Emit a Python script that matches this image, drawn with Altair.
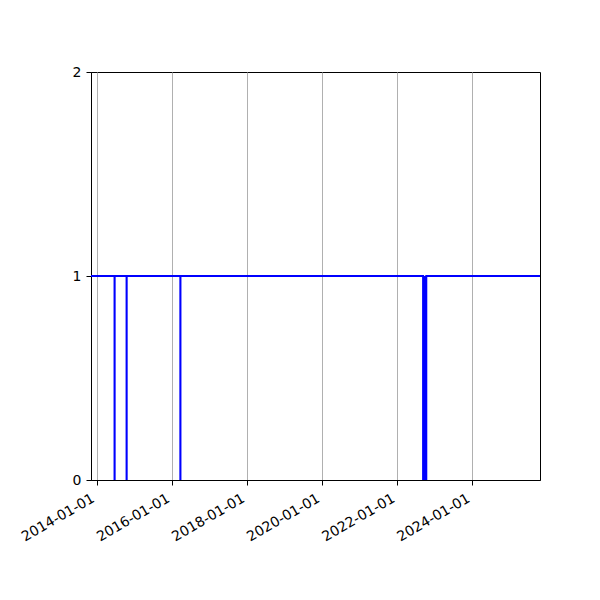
import altair as alt
import pandas as pd

# Series: value is 1 except during these outage windows (value 0)
range_start = "2013-11-08"
range_end = "2025-10-23"
drop_starts = ["2014-06-25", "2014-10-20", "2016-03-26", "2022-09-12", "2022-09-27"]
drop_ends = ["2014-06-26", "2014-10-21", "2016-03-27", "2022-09-27", "2022-10-13"]
y_tick_count = 2  # gives ticks 0, 1, 2
x_tick_years = [2014, 2016, 2018, 2020, 2022, 2024]

dates, values = [range_start], [1]
for s, e in zip(drop_starts, drop_ends):
    dates += [s, s, e, e]
    values += [1, 0, 0, 1]
dates.append(range_end)
values.append(1)
df = pd.DataFrame({"date": dates, "value": values, "i": list(range(len(dates)))})

font = "DejaVu Sans"

chart = alt.Chart(df).mark_line(color="#0000ff", strokeWidth=2, clip=True).encode(
    x=alt.X(
        "date:T",
        title=None,
        scale=alt.Scale(
            type="utc",
            domain=[
                alt.DateTime(year=2013, month=11, date=8, utc=True),
                alt.DateTime(year=2025, month=10, date=23, utc=True),
            ],
        ),
        axis=alt.Axis(
            values=[alt.DateTime(year=y, month=1, date=1, utc=True) for y in x_tick_years],
            format="%Y-%m-%d",
            labelAngle=330,
            labelAlign="right",
            labelBaseline="top",
            labelPadding=6,
            labelOffset=-7,
            labelOverlap=False,
            grid=True,
            gridColor="#b0b0b0",
            gridWidth=1,
        ),
    ),
    y=alt.Y(
        "value:Q",
        title=None,
        scale=alt.Scale(domain=[0, 2], nice=False),
        axis=alt.Axis(tickCount=y_tick_count, grid=False,
                      labelOverlap=False, labelPadding=5),
    ),
    order="i:Q",
).properties(
    width=449,
    height=408,
    autosize=alt.AutoSizeParams(type="none"),
    padding={"left": 83, "top": 64, "right": 52, "bottom": 112},
).configure_view(
    stroke="black", strokeWidth=1
).configure_axis(
    domainColor="black",
    domainWidth=1,
    tickColor="black",
    tickSize=5,
    tickWidth=1,
    labelFont=font,
    labelFontSize=14,
    labelColor="black",
)

chart.save("out.html", embed_options={"renderer": "svg", "actions": False})
